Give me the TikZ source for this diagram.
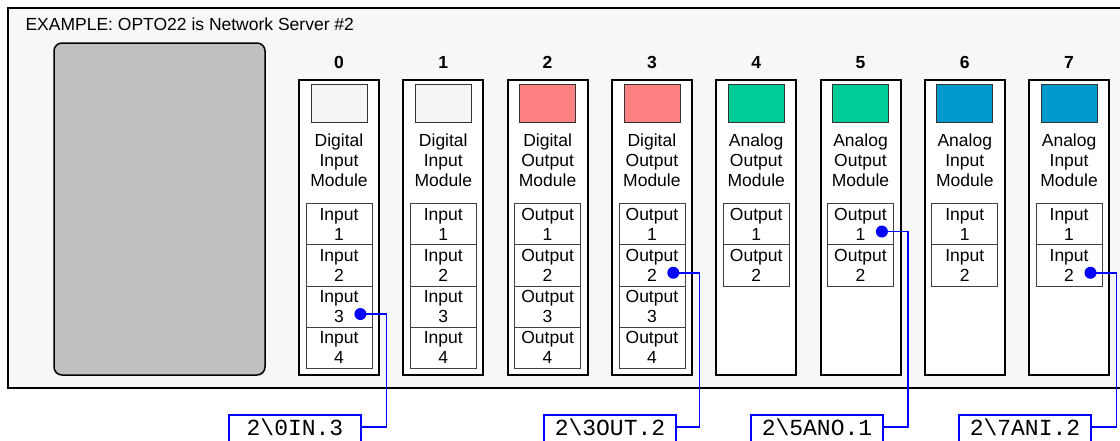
\documentclass[tikz,border=0pt]{standalone}
\usepackage{fontspec}
\setmainfont{Liberation Sans}
\setmonofont{Liberation Mono}
\usepackage{tikz}
\usetikzlibrary{math,calc,positioning}

\definecolor{rackfill}{HTML}{F7F7F7}
\definecolor{cpufill}{HTML}{C0C0C0}
\definecolor{swlight}{HTML}{F5F5F5}
\definecolor{swred}{HTML}{FF8080}
\definecolor{swgreen}{HTML}{00CC99}
\definecolor{swblue}{HTML}{0099CC}

\begin{document}
\begin{tikzpicture}[x=1pt,y=-1pt,font=\fontsize{17.5}{20}\selectfont]
    \tikzstyle{rack}=[draw=black,line width=2pt,fill=rackfill];
    \tikzstyle{cpu}=[draw=black,line width=1.5pt,fill=cpufill,rounded corners=8pt];
    \tikzstyle{module}=[draw=black,line width=2pt,fill=white,minimum width=80pt,minimum height=295pt,inner sep=0pt,anchor=north];
    \tikzstyle{swatch}=[draw=black!80,line width=0.8pt,minimum width=56pt,minimum height=38pt,inner sep=0pt,anchor=north];
    \tikzstyle{point}=[draw=black!75,line width=0.8pt,fill=white,minimum width=66pt,minimum height=41.25pt,inner sep=0pt,align=center,anchor=north];
    \tikzstyle{slotnum}=[anchor=base,font=\bfseries\fontsize{17.5}{20}\selectfont];
    \tikzstyle{dot}=[circle,fill=blue,minimum size=12pt,inner sep=0pt];
    \tikzstyle{tag}=[draw=blue,line width=2pt,fill=white,anchor=north,minimum width=132pt,
      text height=15pt,text depth=6pt,inner ysep=5pt,inner xsep=0pt,font=\ttfamily\fontsize{23}{26}\selectfont];
    \tikzstyle{wire}=[draw=blue,line width=1.5pt];
    \tikzmath{
      \pitch = 104.3;
      \xzero = 339;
    }

    \useasboundingbox (0,0) rectangle (1120,440);
    \clip (0,0) rectangle (1120,440);

    % Draw the rack and the processor
    \draw[rack] (8,8) rectangle (1140,388);
    \node[anchor=base west] (title) at (22,30) {EXAMPLE: OPTO22 is Network Server \#2};
    \draw[cpu] (54,43) rectangle (265,375);

    % Draw the I/O modules with their points
    \foreach \i/\kind/\io/\npts/\col in {0/Digital/Input/4/swlight, 1/Digital/Input/4/swlight,
        2/Digital/Output/4/swred, 3/Digital/Output/4/swred, 4/Analog/Output/2/swgreen,
        5/Analog/Output/2/swgreen, 6/Analog/Input/2/swblue, 7/Analog/Input/2/swblue}
    {
      \node[module] (M-\i) at (\xzero+\i*\pitch,79) {};
      \node[slotnum] (N-\i) at (\xzero+\i*\pitch,68) {\i};
      \node[swatch,fill=\col] (S-\i) at ($(M-\i.north)+(0,5)$) {};
      \node[align=center] (L-\i) at (\xzero+\i*\pitch,160.5) {\kind\\\io\\Module};
      \foreach \j in {1,...,\npts}
        \node[point] (P-\i-\j) at (\xzero+\i*\pitch,203+\j*41.25-41.25) {\io\\\j};
    }

    % Draw the tag names below the rack
    \node[tag] (T-0) at (295,414) {2\textbackslash 0IN.3};
    \node[tag] (T-3) at (610,414) {2\textbackslash 3OUT.2};
    \node[tag] (T-5) at (817,414) {2\textbackslash 5ANO.1};
    \node[tag] (T-7) at (1025,414) {2\textbackslash 7ANI.2};

    % Connect every tag with its point
    \foreach \tg/\src in {0/P-0-3, 3/P-3-2, 5/P-5-1, 7/P-7-2}
    {
      \coordinate (D-\tg) at ($(\src.east)+(-12,7.5)$);
      \draw[wire] (D-\tg) -- ++(26,0) |- ($(T-\tg.north east)+(0,13)$);
      \node[dot] at (D-\tg) {};
    }
\end{tikzpicture}
\end{document}
